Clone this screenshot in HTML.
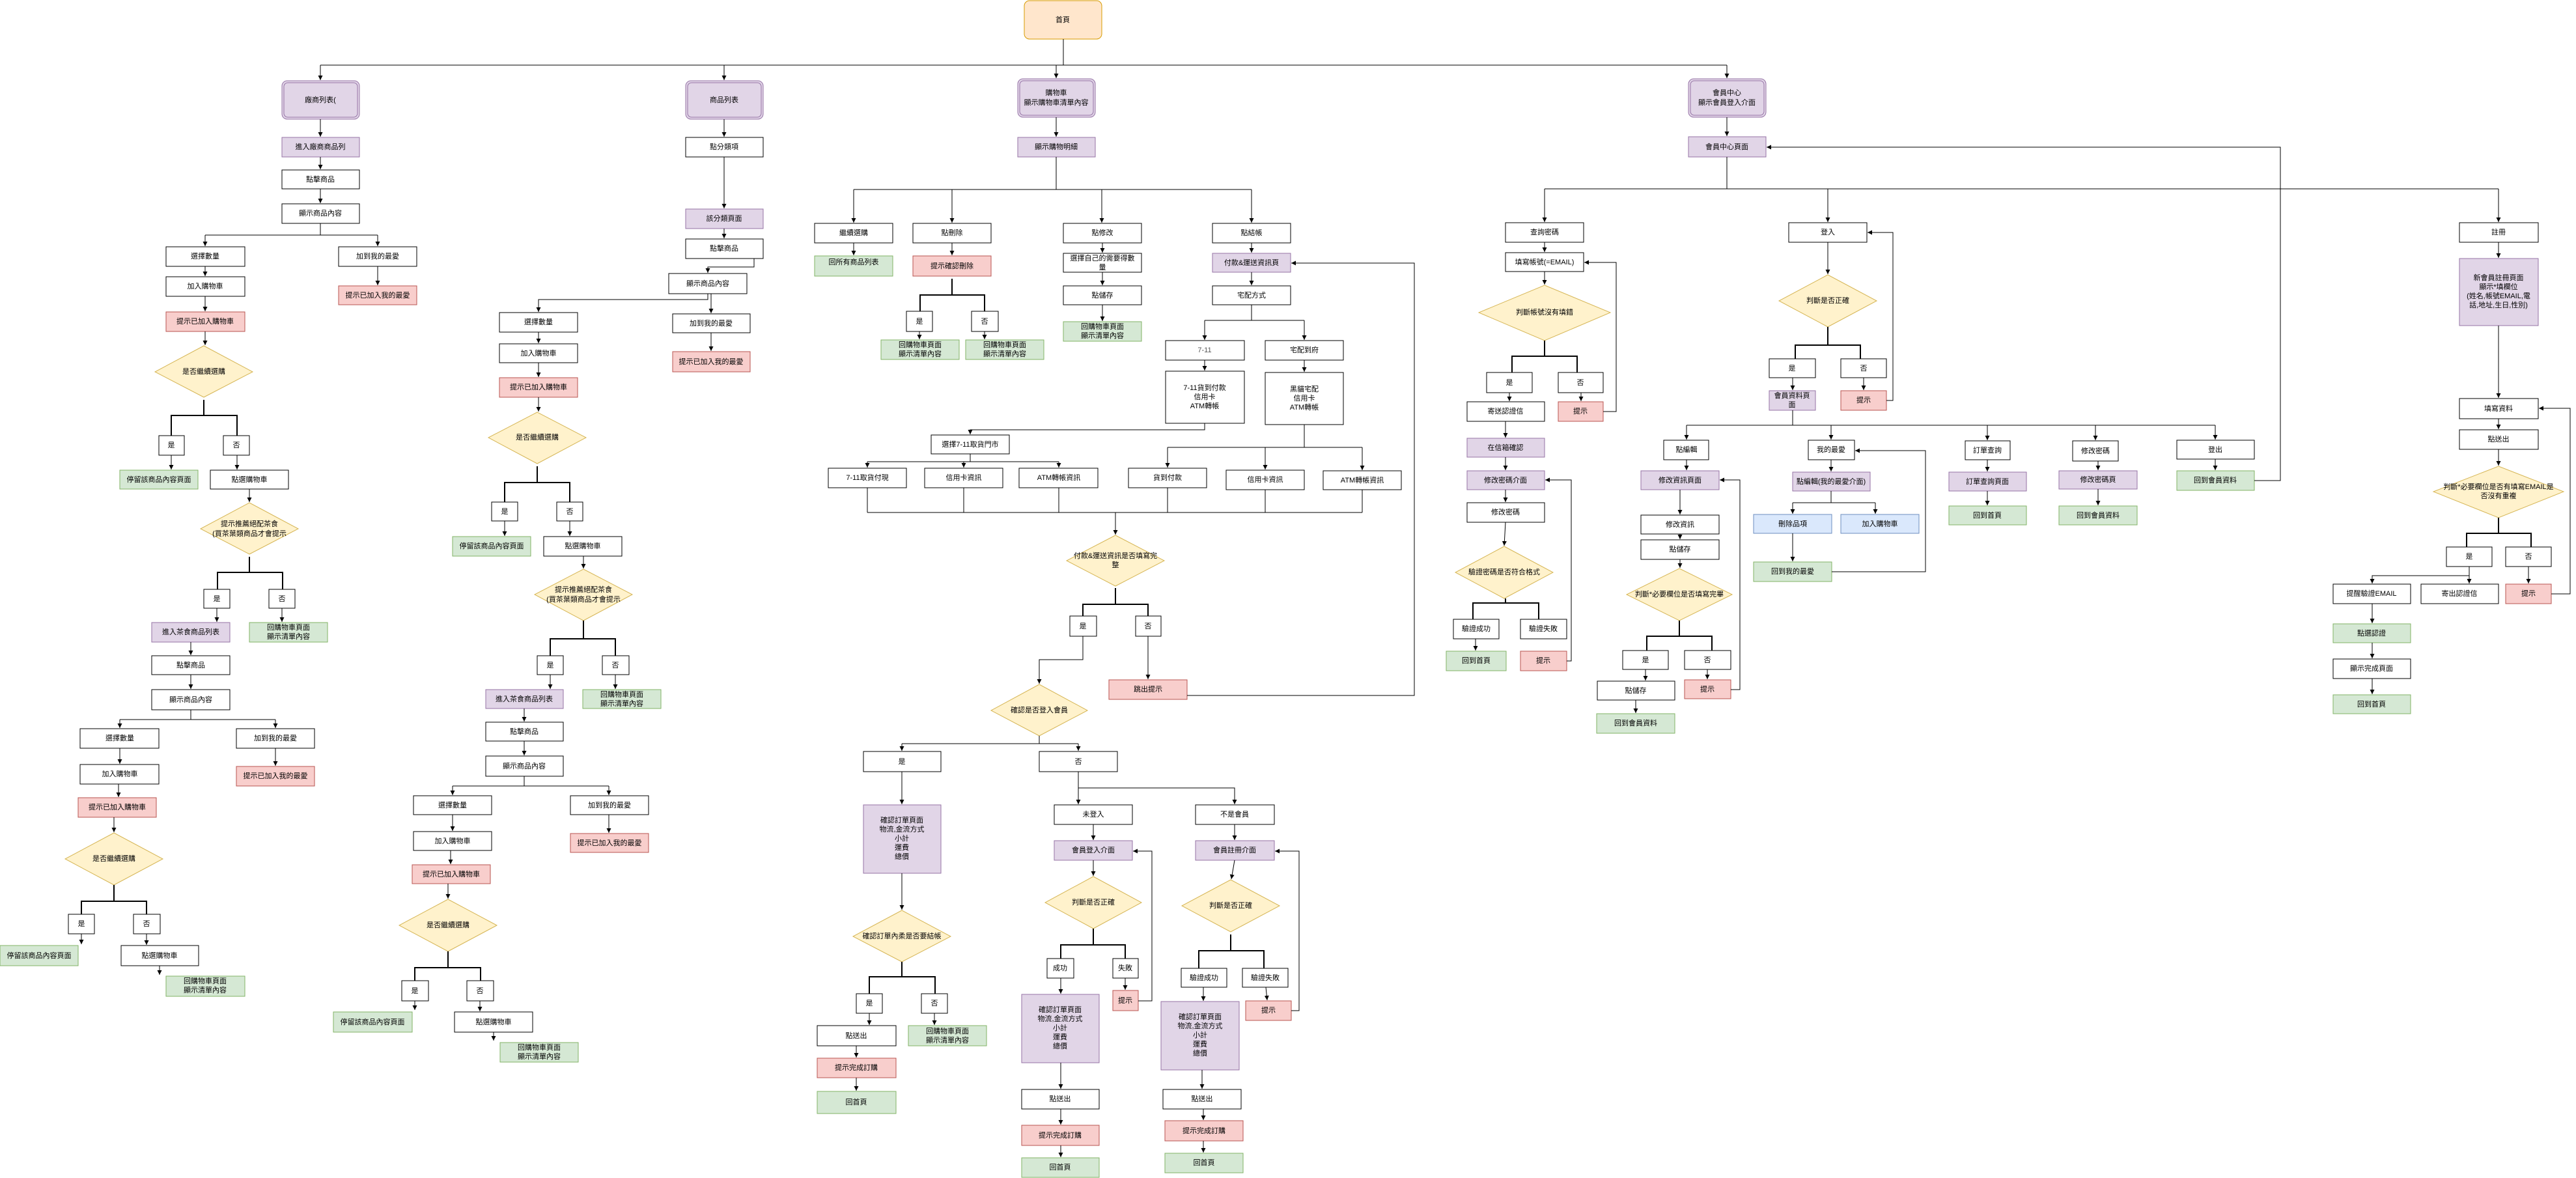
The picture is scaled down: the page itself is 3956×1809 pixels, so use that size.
<!DOCTYPE html>
<html><head><meta charset="utf-8"><style>
html,body{margin:0;padding:0;background:#fff;}
svg{display:block;}
text{font-family:"Liberation Sans","Noto Sans CJK TC",sans-serif;font-size:11px;fill:#000;text-anchor:middle;dominant-baseline:central;}
.w{fill:#fff;stroke:#000;stroke-width:1;}
.p{fill:#e1d5e7;stroke:#9673a6;stroke-width:1;}
.g{fill:#d5e8d4;stroke:#82b366;stroke-width:1;}
.r{fill:#f8cecc;stroke:#b85450;stroke-width:1;}
.b{fill:#dae8fc;stroke:#6c8ebf;stroke-width:1;}
.y{fill:#fff2cc;stroke:#d6b656;stroke-width:1;}
.o{fill:#ffe6cc;stroke:#d79b00;stroke-width:1;}
.c{fill:none;stroke:#000;stroke-width:1;}
.k{fill:none;stroke:#000;stroke-width:2;}
</style></head><body>
<svg width="3956" height="1809" viewBox="0 0 3956 1809" xmlns="http://www.w3.org/2000/svg">
<defs><marker id="a" markerWidth="8" markerHeight="8" refX="7" refY="4" orient="auto" markerUnits="userSpaceOnUse"><path d="M0,0.5 L7,4 L0,7.5 Z" fill="#000"/></marker></defs>

<!-- top -->
<rect class="o" x="1573" y="1" width="119" height="59" rx="8"/><text x="1632" y="31">首頁</text>
<path class="c" d="M1633,60 V100"/>
<path class="c" d="M492,100 H2652"/>
<path class="c" d="M492,100 V123" marker-end="url(#a)"/>
<path class="c" d="M1112,100 V123" marker-end="url(#a)"/>
<path class="c" d="M1622,100 V120" marker-end="url(#a)"/>
<path class="c" d="M2652,100 V120" marker-end="url(#a)"/>

<!-- column 1 -->
<rect class="p" x="433" y="124" width="119" height="59" rx="8"/><rect class="p" x="436" y="127" width="113" height="53" rx="6"/><text x="492" y="154">廠商列表(</text>
<path class="c" d="M492,183 V210" marker-end="url(#a)"/>
<rect class="p" x="433" y="211" width="119" height="30"/><text x="492" y="226">進入廠商商品列</text>
<path class="c" d="M492,241 V260" marker-end="url(#a)"/>
<rect class="w" x="433" y="261" width="119" height="29"/><text x="492" y="276">點擊商品</text>
<path class="c" d="M492,290 V312" marker-end="url(#a)"/>
<rect class="w" x="433" y="313" width="119" height="30"/><text x="492" y="328">顯示商品內容</text>
<path class="c" d="M492,343 V361 M315,361 H580"/>
<path class="c" d="M315,361 V378" marker-end="url(#a)"/><path class="c" d="M580,361 V378" marker-end="url(#a)"/>
<rect class="w" x="255" y="379" width="121" height="30"/><text x="315" y="394">選擇數量</text>
<rect class="w" x="520" y="379" width="120" height="30"/><text x="580" y="394">加到我的最愛</text>
<path class="c" d="M315,409 V424" marker-end="url(#a)"/>
<path class="c" d="M580,409 V438" marker-end="url(#a)"/>
<rect class="w" x="255" y="425" width="121" height="30"/><text x="315" y="440">加入購物車</text>
<rect class="r" x="520" y="439" width="120" height="29"/><text x="580" y="454">提示已加入我的最愛</text>
<path class="c" d="M315,455 V478" marker-end="url(#a)"/>
<rect class="r" x="255" y="479" width="121" height="30"/><text x="315" y="494">提示已加入購物車</text>
<path class="c" d="M315,509 V530" marker-end="url(#a)"/>
<polygon class="y" points="313,531 388,571 313,610 238,571"/><text x="313" y="571">是否繼續選購</text>
<path class="k" d="M313,614 V638 M263,638 H364 M263,637 V669 M364,637 V669"/>
<rect class="w" x="244" y="669" width="39" height="30"/><text x="263" y="684">是</text>
<rect class="w" x="343" y="669" width="40" height="30"/><text x="363" y="684">否</text>
<path class="c" d="M263,699 V721" marker-end="url(#a)"/><path class="c" d="M364,699 V721" marker-end="url(#a)"/>
<rect class="g" x="184" y="722" width="120" height="29"/><text x="244" y="737">停留該商品內容頁面</text>
<rect class="w" x="323" y="722" width="120" height="29"/><text x="383" y="737">點選購物車</text>
<path class="c" d="M383,751 V771" marker-end="url(#a)"/>
<polygon class="y" points="383,772 458,812 383,851 308,812"/><text x="383" y="805">提示推薦絕配茶食</text><text x="383" y="820">(買茶葉類商品才會提示</text>
<path class="k" d="M383,855 V879 M334,879 H434 M334,878 V905 M434,878 V905"/>
<rect class="w" x="313" y="905" width="40" height="29"/><text x="333" y="920">是</text>
<rect class="w" x="413" y="905" width="40" height="29"/><text x="433" y="920">否</text>
<path class="c" d="M333,934 V955" marker-end="url(#a)"/><path class="c" d="M433,934 V955" marker-end="url(#a)"/>
<rect class="p" x="233" y="956" width="120" height="30"/><text x="293" y="971">進入茶食商品列表</text>
<rect class="g" x="383" y="956" width="120" height="30"/><text x="443" y="964">回購物車頁面</text><text x="443" y="978">顯示清單內容</text>
<path class="c" d="M293,986 V1006" marker-end="url(#a)"/>
<rect class="w" x="233" y="1007" width="120" height="29"/><text x="293" y="1022">點擊商品</text>
<path class="c" d="M293,1036 V1058" marker-end="url(#a)"/>
<rect class="w" x="233" y="1059" width="120" height="31"/><text x="293" y="1075">顯示商品內容</text>
<path class="c" d="M293,1090 V1105 M184,1105 H423"/>
<path class="c" d="M184,1105 V1118" marker-end="url(#a)"/><path class="c" d="M423,1105 V1118" marker-end="url(#a)"/>
<rect class="w" x="123" y="1119" width="121" height="30"/><text x="184" y="1134">選擇數量</text>
<rect class="w" x="363" y="1119" width="120" height="30"/><text x="423" y="1134">加到我的最愛</text>
<path class="c" d="M184,1149 V1173" marker-end="url(#a)"/><path class="c" d="M423,1149 V1176" marker-end="url(#a)"/>
<rect class="w" x="123" y="1174" width="121" height="30"/><text x="184" y="1189">加入購物車</text>
<rect class="r" x="363" y="1177" width="120" height="30"/><text x="423" y="1192">提示已加入我的最愛</text>
<path class="c" d="M182,1204 V1224" marker-end="url(#a)"/>
<rect class="r" x="120" y="1225" width="120" height="30"/><text x="180" y="1240">提示已加入購物車</text>
<path class="c" d="M175,1255 V1278" marker-end="url(#a)"/>
<polygon class="y" points="175,1279 250,1319 175,1359 100,1319"/><text x="175" y="1319">是否繼續選購</text>
<path class="k" d="M175,1359 V1384 M125,1384 H225 M125,1383 V1404 M225,1383 V1404"/>
<rect class="w" x="105" y="1404" width="40" height="30"/><text x="125" y="1419">是</text>
<rect class="w" x="205" y="1404" width="41" height="30"/><text x="225" y="1419">否</text>
<path class="c" d="M125,1434 V1450" marker-end="url(#a)"/><path class="c" d="M225,1434 V1451" marker-end="url(#a)"/>
<rect class="g" x="0" y="1452" width="120" height="31"/><text x="60" y="1468">停留該商品內容頁面</text>
<rect class="w" x="186" y="1452" width="119" height="31"/><text x="245" y="1468">點選購物車</text>
<path class="c" d="M245,1483 V1497" marker-end="url(#a)"/>
<rect class="g" x="255" y="1499" width="121" height="31"/><text x="315" y="1507">回購物車頁面</text><text x="315" y="1521">顯示清單內容</text>

<!-- column 2 -->
<rect class="p" x="1053" y="124" width="119" height="59" rx="8"/><rect class="p" x="1056" y="127" width="113" height="53" rx="6"/><text x="1112" y="154">商品列表</text>
<path class="c" d="M1112,183 V210" marker-end="url(#a)"/>
<rect class="w" x="1053" y="211" width="119" height="30"/><text x="1112" y="226">點分類項</text>
<path class="c" d="M1112,241 V320" marker-end="url(#a)"/>
<rect class="p" x="1053" y="321" width="119" height="30"/><text x="1112" y="336">該分類頁面</text>
<path class="c" d="M1112,351 V366" marker-end="url(#a)"/>
<rect class="w" x="1053" y="367" width="119" height="30"/><text x="1112" y="382">點擊商品</text>
<path class="c" d="M1158,397 V410 H1087 V419" marker-end="url(#a)"/>
<rect class="w" x="1027" y="420" width="120" height="31"/><text x="1087" y="436">顯示商品內容</text>
<path class="c" d="M1087,451 V460 H827 V479" marker-end="url(#a)"/>
<path class="c" d="M1092,451 V481" marker-end="url(#a)"/>
<rect class="w" x="1033" y="482" width="119" height="29"/><text x="1092" y="497">加到我的最愛</text>
<path class="c" d="M1092,511 V539" marker-end="url(#a)"/>
<rect class="r" x="1033" y="540" width="119" height="31"/><text x="1092" y="556">提示已加入我的最愛</text>
<rect class="w" x="767" y="480" width="120" height="30"/><text x="827" y="495">選擇數量</text>
<path class="c" d="M827,510 V527" marker-end="url(#a)"/>
<rect class="w" x="767" y="528" width="120" height="29"/><text x="827" y="543">加入購物車</text>
<path class="c" d="M827,557 V579" marker-end="url(#a)"/>
<rect class="r" x="767" y="580" width="120" height="30"/><text x="827" y="595">提示已加入購物車</text>
<path class="c" d="M827,610 V632" marker-end="url(#a)"/>
<polygon class="y" points="825,633 900,672 825,712 750,672"/><text x="825" y="672">是否繼續選購</text>
<path class="k" d="M825,716 V741 M775,741 H875 M775,740 V771 M875,740 V771"/>
<rect class="w" x="755" y="771" width="40" height="29"/><text x="775" y="786">是</text>
<rect class="w" x="855" y="771" width="40" height="29"/><text x="875" y="786">否</text>
<path class="c" d="M775,800 V823" marker-end="url(#a)"/><path class="c" d="M875,800 V823" marker-end="url(#a)"/>
<rect class="g" x="695" y="824" width="120" height="30"/><text x="755" y="839">停留該商品內容頁面</text>
<rect class="w" x="835" y="824" width="120" height="30"/><text x="895" y="839">點選購物車</text>
<path class="c" d="M896,854 V873" marker-end="url(#a)"/>
<polygon class="y" points="896,874 971,913 896,953 821,913"/><text x="896" y="906">提示推薦絕配茶食</text><text x="896" y="921">(買茶葉類商品才會提示</text>
<path class="k" d="M896,953 V981 M845,981 H945 M845,980 V1007 M945,980 V1007"/>
<rect class="w" x="825" y="1007" width="40" height="29"/><text x="845" y="1022">是</text>
<rect class="w" x="925" y="1007" width="41" height="29"/><text x="945" y="1022">否</text>
<path class="c" d="M845,1036 V1058" marker-end="url(#a)"/><path class="c" d="M945,1036 V1058" marker-end="url(#a)"/>
<rect class="p" x="746" y="1059" width="119" height="29"/><text x="805" y="1074">進入茶食商品列表</text>
<rect class="g" x="895" y="1059" width="120" height="29"/><text x="955" y="1067">回購物車頁面</text><text x="955" y="1081">顯示清單內容</text>
<path class="c" d="M805,1088 V1108" marker-end="url(#a)"/>
<rect class="w" x="746" y="1109" width="119" height="29"/><text x="805" y="1124">點擊商品</text>
<path class="c" d="M805,1138 V1160" marker-end="url(#a)"/>
<rect class="w" x="746" y="1161" width="119" height="31"/><text x="805" y="1177">顯示商品內容</text>
<path class="c" d="M805,1192 V1207 M695,1207 H935"/>
<path class="c" d="M695,1207 V1221" marker-end="url(#a)"/><path class="c" d="M935,1207 V1221" marker-end="url(#a)"/>
<rect class="w" x="635" y="1222" width="120" height="29"/><text x="695" y="1237">選擇數量</text>
<rect class="w" x="876" y="1222" width="120" height="29"/><text x="936" y="1237">加到我的最愛</text>
<path class="c" d="M695,1251 V1276" marker-end="url(#a)"/><path class="c" d="M935,1251 V1279" marker-end="url(#a)"/>
<rect class="w" x="635" y="1277" width="120" height="29"/><text x="695" y="1292">加入購物車</text>
<rect class="r" x="876" y="1280" width="120" height="29"/><text x="936" y="1295">提示已加入我的最愛</text>
<path class="c" d="M692,1306 V1327" marker-end="url(#a)"/>
<rect class="r" x="633" y="1328" width="120" height="29"/><text x="693" y="1343">提示已加入購物車</text>
<path class="c" d="M688,1357 V1380" marker-end="url(#a)"/>
<polygon class="y" points="688,1381 763,1421 688,1461 613,1421"/><text x="688" y="1421">是否繼續選購</text>
<path class="k" d="M688,1461 V1486 M637,1486 H738 M637,1485 V1506 M738,1485 V1506"/>
<rect class="w" x="617" y="1506" width="41" height="31"/><text x="637" y="1522">是</text>
<rect class="w" x="717" y="1506" width="41" height="31"/><text x="737" y="1522">否</text>
<path class="c" d="M637,1537 V1551" marker-end="url(#a)"/><path class="c" d="M737,1537 V1553" marker-end="url(#a)"/>
<rect class="g" x="512" y="1554" width="121" height="31"/><text x="572" y="1570">停留該商品內容頁面</text>
<rect class="w" x="698" y="1554" width="120" height="31"/><text x="758" y="1570">點選購物車</text>
<path class="c" d="M758,1585 V1598" marker-end="url(#a)"/>
<rect class="g" x="768" y="1601" width="120" height="30"/><text x="828" y="1609">回購物車頁面</text><text x="828" y="1623">顯示清單內容</text>

<!-- column 3 cart -->
<rect class="p" x="1563" y="121" width="119" height="59" rx="8"/><rect class="p" x="1566" y="124" width="113" height="53" rx="6"/><text x="1622" y="143">購物車</text><text x="1622" y="158">顯示購物車清單內容</text>
<path class="c" d="M1622,180 V210" marker-end="url(#a)"/>
<rect class="p" x="1563" y="211" width="119" height="30"/><text x="1622" y="226">顯示購物明細</text>
<path class="c" d="M1622,241 V291 M1311,291 H1922"/>
<path class="c" d="M1311,291 V342" marker-end="url(#a)"/><path class="c" d="M1462,291 V342" marker-end="url(#a)"/><path class="c" d="M1692,291 V342" marker-end="url(#a)"/><path class="c" d="M1922,291 V342" marker-end="url(#a)"/>
<rect class="w" x="1251" y="343" width="120" height="30"/><text x="1311" y="358">繼續選購</text>
<rect class="w" x="1402" y="343" width="120" height="30"/><text x="1462" y="358">點刪除</text>
<rect class="w" x="1633" y="343" width="120" height="30"/><text x="1693" y="358">點修改</text>
<rect class="w" x="1862" y="343" width="120" height="30"/><text x="1922" y="358">點結帳</text>
<path class="c" d="M1311,373 V392" marker-end="url(#a)"/><path class="c" d="M1462,373 V392" marker-end="url(#a)"/>
<rect class="g" x="1251" y="393" width="120" height="31"/><text x="1311" y="403">回所有商品列表</text>
<rect class="r" x="1402" y="393" width="120" height="31"/><text x="1462" y="409">提示確認刪除</text>
<path class="k" d="M1462,428 V453 M1413,453 H1512 M1413,452 V478 M1512,452 V478"/>
<rect class="w" x="1392" y="478" width="40" height="31"/><text x="1412" y="494">是</text>
<rect class="w" x="1492" y="478" width="41" height="31"/><text x="1512" y="494">否</text>
<path class="c" d="M1412,509 V521" marker-end="url(#a)"/><path class="c" d="M1512,509 V521" marker-end="url(#a)"/>
<rect class="g" x="1353" y="522" width="120" height="30"/><text x="1413" y="530">回購物車頁面</text><text x="1413" y="544">顯示清單內容</text>
<rect class="g" x="1483" y="522" width="120" height="30"/><text x="1543" y="530">回購物車頁面</text><text x="1543" y="544">顯示清單內容</text>
<path class="c" d="M1693,373 V388" marker-end="url(#a)"/>
<rect class="w" x="1633" y="389" width="120" height="29"/><text x="1693" y="397">選擇自己的需要得數</text><text x="1693" y="411">量</text>
<path class="c" d="M1693,418 V438" marker-end="url(#a)"/>
<rect class="w" x="1633" y="439" width="120" height="29"/><text x="1693" y="454">點儲存</text>
<path class="c" d="M1693,468 V493" marker-end="url(#a)"/>
<rect class="g" x="1633" y="494" width="120" height="30"/><text x="1693" y="502">回購物車頁面</text><text x="1693" y="516">顯示清單內容</text>
<path class="c" d="M1922,373 V388" marker-end="url(#a)"/>
<rect class="p" x="1862" y="389" width="120" height="29"/><text x="1922" y="404">付款&amp;運送資訊頁</text>
<path class="c" d="M1922,418 V438" marker-end="url(#a)"/>
<rect class="w" x="1862" y="439" width="120" height="29"/><text x="1922" y="454">宅配方式</text>
<path class="c" d="M1922,468 V492 M1850,492 H2003"/>
<path class="c" d="M1850,492 V522" marker-end="url(#a)"/><path class="c" d="M2003,492 V522" marker-end="url(#a)"/>
<rect class="w" x="1790" y="523" width="121" height="30"/><text x="1850" y="538" style="fill:#555">7-11</text>
<rect class="w" x="1943" y="523" width="120" height="30"/><text x="2003" y="538">宅配到府</text>
<path class="c" d="M1850,553 V569" marker-end="url(#a)"/><path class="c" d="M2003,553 V571" marker-end="url(#a)"/>
<rect class="w" x="1790" y="570" width="121" height="80"/><text x="1850" y="596">7-11貨到付款</text><text x="1850" y="610">信用卡</text><text x="1850" y="624">ATM轉帳</text>
<rect class="w" x="1943" y="572" width="120" height="80"/><text x="2003" y="598">黑貓宅配</text><text x="2003" y="612">信用卡</text><text x="2003" y="626">ATM轉帳</text>
<path class="c" d="M1850,650 V660 H1490 V667" marker-end="url(#a)"/>
<rect class="w" x="1430" y="668" width="120" height="29"/><text x="1490" y="683">選擇7-11取貨門市</text>
<path class="c" d="M1490,697 V709 M1332,709 H1626"/>
<path class="c" d="M1332,709 V718" marker-end="url(#a)"/><path class="c" d="M1480,709 V718" marker-end="url(#a)"/><path class="c" d="M1626,709 V718" marker-end="url(#a)"/>
<rect class="w" x="1272" y="719" width="120" height="30"/><text x="1332" y="734">7-11取貨付現</text>
<rect class="w" x="1420" y="719" width="120" height="30"/><text x="1480" y="734">信用卡資訊</text>
<rect class="w" x="1565" y="719" width="121" height="30"/><text x="1626" y="734">ATM轉帳資訊</text>
<path class="c" d="M2003,652 V687 M1793,687 H2092"/>
<path class="c" d="M1793,687 V718" marker-end="url(#a)"/><path class="c" d="M1943,687 V721" marker-end="url(#a)"/><path class="c" d="M2092,687 V722" marker-end="url(#a)"/>
<rect class="w" x="1733" y="719" width="120" height="30"/><text x="1793" y="734">貨到付款</text>
<rect class="w" x="1883" y="722" width="120" height="30"/><text x="1943" y="737">信用卡資訊</text>
<rect class="w" x="2032" y="723" width="120" height="29"/><text x="2092" y="738">ATM轉帳資訊</text>
<path class="c" d="M1332,749 V787 M1480,749 V787 M1626,749 V787 M1793,749 V787 M1943,752 V787 M2092,752 V787 M1332,787 H2092"/>
<path class="c" d="M1713,787 V821" marker-end="url(#a)"/>
<polygon class="y" points="1713,822 1788,861 1713,900 1638,861"/><text x="1713" y="854">付款&amp;運送資訊是否填寫完</text><text x="1713" y="868">整</text>
<path class="k" d="M1713,903 V928 M1663,928 H1763 M1663,927 V946 M1763,927 V946"/>
<rect class="w" x="1643" y="946" width="41" height="31"/><text x="1663" y="962">是</text>
<rect class="w" x="1744" y="946" width="39" height="31"/><text x="1763" y="962">否</text>
<path class="c" d="M1663,977 V1013 H1596 V1050" marker-end="url(#a)"/>
<path class="c" d="M1763,977 V1043" marker-end="url(#a)"/>
<rect class="r" x="1703" y="1044" width="120" height="30"/><text x="1763" y="1059">跳出提示</text>
<path class="c" d="M1823,1068 H2172 V404 H1983" marker-end="url(#a)"/>
<polygon class="y" points="1596,1051 1670,1091 1596,1130 1522,1091"/><text x="1596" y="1091">確認是否登入會員</text>
<path class="c" d="M1596,1130 V1142 M1385,1142 H1656"/>
<path class="c" d="M1385,1142 V1153" marker-end="url(#a)"/><path class="c" d="M1656,1142 V1153" marker-end="url(#a)"/>
<rect class="w" x="1326" y="1154" width="119" height="31"/><text x="1385" y="1170">是</text>
<rect class="w" x="1596" y="1154" width="120" height="31"/><text x="1656" y="1170">否</text>
<path class="c" d="M1385,1185 V1235" marker-end="url(#a)"/>
<rect class="p" x="1326" y="1236" width="119" height="105"/><text x="1385" y="1260">確認訂單頁面</text><text x="1385" y="1274">物流,金流方式</text><text x="1385" y="1288">小計</text><text x="1385" y="1302">運費</text><text x="1385" y="1316">總價</text>
<path class="c" d="M1385,1341 V1397" marker-end="url(#a)"/>
<polygon class="y" points="1385,1398 1460,1438 1385,1477 1310,1438"/><text x="1385" y="1438">確認訂單內柔是否要結帳</text>
<path class="k" d="M1385,1477 V1500 M1335,1500 H1436 M1335,1499 V1526 M1436,1499 V1526"/>
<rect class="w" x="1315" y="1526" width="40" height="30"/><text x="1335" y="1541">是</text>
<rect class="w" x="1415" y="1526" width="40" height="30"/><text x="1435" y="1541">否</text>
<path class="c" d="M1335,1556 V1574" marker-end="url(#a)"/><path class="c" d="M1435,1556 V1574" marker-end="url(#a)"/>
<rect class="w" x="1255" y="1575" width="121" height="31"/><text x="1315" y="1591">點送出</text>
<rect class="g" x="1395" y="1575" width="120" height="31"/><text x="1455" y="1584">回購物車頁面</text><text x="1455" y="1598">顯示清單內容</text>
<path class="c" d="M1315,1606 V1624" marker-end="url(#a)"/>
<rect class="r" x="1255" y="1625" width="121" height="30"/><text x="1315" y="1640">提示完成訂購</text>
<path class="c" d="M1315,1655 V1675" marker-end="url(#a)"/>
<rect class="g" x="1255" y="1676" width="121" height="34"/><text x="1315" y="1693">回首頁</text>
<path class="c" d="M1656,1185 V1210 H1896 V1235" marker-end="url(#a)"/>
<path class="c" d="M1656,1210 V1235" marker-end="url(#a)"/>
<rect class="w" x="1619" y="1236" width="120" height="30"/><text x="1679" y="1251">未登入</text>
<rect class="w" x="1836" y="1236" width="121" height="30"/><text x="1896" y="1251">不是會員</text>
<path class="c" d="M1679,1266 V1290" marker-end="url(#a)"/><path class="c" d="M1896,1266 V1290" marker-end="url(#a)"/>
<rect class="p" x="1619" y="1291" width="120" height="30"/><text x="1679" y="1306">會員登入介面</text>
<rect class="p" x="1836" y="1291" width="121" height="30"/><text x="1896" y="1306">會員註冊介面</text>
<path class="c" d="M1679,1321 V1345" marker-end="url(#a)"/><path class="c" d="M1896,1321 L1891,1350" marker-end="url(#a)"/>
<polygon class="y" points="1679,1346 1753,1386 1679,1426 1605,1386"/><text x="1679" y="1386">判斷是否正確</text>
<polygon class="y" points="1890,1351 1965,1391 1890,1431 1815,1391"/><text x="1890" y="1391">判斷是否正確</text>
<path class="k" d="M1679,1426 V1451 M1629,1451 H1728 M1629,1450 V1472 M1728,1450 V1472"/>
<rect class="w" x="1608" y="1472" width="41" height="30"/><text x="1628" y="1487">成功</text>
<rect class="w" x="1709" y="1472" width="39" height="30"/><text x="1728" y="1487">失敗</text>
<path class="c" d="M1728,1502 V1520" marker-end="url(#a)"/>
<rect class="r" x="1709" y="1521" width="39" height="31"/><text x="1728" y="1537">提示</text>
<path class="c" d="M1748,1537 H1769 V1307 H1740" marker-end="url(#a)"/>
<path class="c" d="M1629,1502 V1526" marker-end="url(#a)"/>
<rect class="p" x="1569" y="1527" width="119" height="105"/><text x="1628" y="1551">確認訂單頁面</text><text x="1628" y="1565">物流,金流方式</text><text x="1628" y="1579">小計</text><text x="1628" y="1593">運費</text><text x="1628" y="1607">總價</text>
<path class="c" d="M1629,1632 V1672" marker-end="url(#a)"/>
<rect class="w" x="1569" y="1673" width="119" height="30"/><text x="1628" y="1688">點送出</text>
<path class="c" d="M1629,1703 V1727" marker-end="url(#a)"/>
<rect class="r" x="1569" y="1728" width="119" height="31"/><text x="1628" y="1744">提示完成訂購</text>
<path class="c" d="M1629,1759 V1777" marker-end="url(#a)"/>
<rect class="g" x="1569" y="1778" width="119" height="30"/><text x="1628" y="1793">回首頁</text>
<path class="k" d="M1890,1435 V1460 M1841,1460 H1941 M1841,1459 V1487 M1941,1459 V1487"/>
<rect class="w" x="1814" y="1487" width="70" height="29"/><text x="1849" y="1502">驗證成功</text>
<rect class="w" x="1908" y="1487" width="70" height="29"/><text x="1943" y="1502">驗證失敗</text>
<path class="c" d="M1848,1516 V1537" marker-end="url(#a)"/><path class="c" d="M1944,1516 L1946,1536" marker-end="url(#a)"/>
<rect class="p" x="1783" y="1538" width="120" height="105"/><text x="1843" y="1562">確認訂單頁面</text><text x="1843" y="1576">物流,金流方式</text><text x="1843" y="1590">小計</text><text x="1843" y="1604">運費</text><text x="1843" y="1618">總價</text>
<rect class="r" x="1913" y="1537" width="70" height="30"/><text x="1948" y="1552">提示</text>
<path class="c" d="M1983,1552 H1995 V1307 H1958" marker-end="url(#a)"/>
<path class="c" d="M1846,1643 V1672" marker-end="url(#a)"/>
<rect class="w" x="1786" y="1673" width="120" height="30"/><text x="1846" y="1688">點送出</text>
<path class="c" d="M1848,1703 V1720" marker-end="url(#a)"/>
<rect class="r" x="1789" y="1721" width="120" height="31"/><text x="1849" y="1737">提示完成訂購</text>
<path class="c" d="M1848,1752 V1770" marker-end="url(#a)"/>
<rect class="g" x="1789" y="1771" width="120" height="30"/><text x="1849" y="1786">回首頁</text>

<!-- column 4 member -->
<rect class="p" x="2593" y="121" width="119" height="59" rx="8"/><rect class="p" x="2596" y="124" width="113" height="53" rx="6"/><text x="2652" y="143">會員中心</text><text x="2652" y="158">顯示會員登入介面</text>
<path class="c" d="M2652,180 V209" marker-end="url(#a)"/>
<rect class="p" x="2593" y="210" width="119" height="31"/><text x="2652" y="226">會員中心頁面</text>
<path class="c" d="M2652,241 V290 M2372,290 H3837"/>
<path class="c" d="M2372,290 V341" marker-end="url(#a)"/><path class="c" d="M2807,290 V341" marker-end="url(#a)"/><path class="c" d="M3837,290 V341" marker-end="url(#a)"/>
<rect class="w" x="2312" y="342" width="120" height="30"/><text x="2372" y="357">查詢密碼</text>
<path class="c" d="M2372,372 V387" marker-end="url(#a)"/>
<rect class="w" x="2312" y="388" width="120" height="29"/><text x="2372" y="403">填寫帳號(=EMAIL)</text>
<path class="c" d="M2372,417 V437" marker-end="url(#a)"/>
<polygon class="y" points="2372,438 2473,480 2372,523 2271,480"/><text x="2372" y="480">判斷帳號沒有填錯</text>
<path class="k" d="M2372,523 V547 M2322,547 H2422 M2322,546 V572 M2422,546 V572"/>
<rect class="w" x="2283" y="572" width="70" height="31"/><text x="2318" y="588">是</text>
<rect class="w" x="2393" y="572" width="69" height="31"/><text x="2427" y="588">否</text>
<path class="c" d="M2318,603 V616" marker-end="url(#a)"/><path class="c" d="M2428,603 V616" marker-end="url(#a)"/>
<rect class="w" x="2253" y="617" width="119" height="30"/><text x="2312" y="632">寄送認證信</text>
<rect class="r" x="2393" y="617" width="69" height="30"/><text x="2427" y="632">提示</text>
<path class="c" d="M2462,632 H2482 V403 H2433" marker-end="url(#a)"/>
<path class="c" d="M2312,647 V672" marker-end="url(#a)"/>
<rect class="p" x="2253" y="673" width="119" height="29"/><text x="2312" y="688">在信箱確認</text>
<path class="c" d="M2312,702 V722" marker-end="url(#a)"/>
<rect class="p" x="2253" y="723" width="119" height="29"/><text x="2312" y="738">修改密碼介面</text>
<path class="c" d="M2312,752 V771" marker-end="url(#a)"/>
<rect class="w" x="2253" y="772" width="119" height="30"/><text x="2312" y="787">修改密碼</text>
<path class="c" d="M2312,802 L2310,838" marker-end="url(#a)"/>
<polygon class="y" points="2310,839 2385,879 2310,919 2235,879"/><text x="2310" y="879">驗證密碼是否符合格式</text>
<path class="k" d="M2312,919 V926 M2262,926 H2363 M2262,925 V951 M2363,925 V951"/>
<rect class="w" x="2232" y="951" width="70" height="30"/><text x="2267" y="966">驗證成功</text>
<rect class="w" x="2335" y="951" width="71" height="30"/><text x="2370" y="966">驗證失敗</text>
<path class="c" d="M2266,981 V999" marker-end="url(#a)"/>
<rect class="g" x="2221" y="1000" width="92" height="30"/><text x="2267" y="1015">回到首頁</text>
<rect class="r" x="2335" y="1000" width="71" height="30"/><text x="2370" y="1015">提示</text>
<path class="c" d="M2406,1015 H2413 V737 H2373" marker-end="url(#a)"/>
<rect class="w" x="2747" y="342" width="120" height="30"/><text x="2807" y="357">登入</text>
<path class="c" d="M2807,372 V421" marker-end="url(#a)"/>
<polygon class="y" points="2807,422 2882,462 2807,502 2732,462"/><text x="2807" y="462">判斷是否正確</text>
<path class="k" d="M2807,502 V530 M2757,530 H2857 M2757,529 V551 M2857,529 V551"/>
<rect class="w" x="2717" y="551" width="71" height="29"/><text x="2752" y="566">是</text>
<rect class="w" x="2827" y="551" width="70" height="29"/><text x="2862" y="566">否</text>
<path class="c" d="M2753,580 V599" marker-end="url(#a)"/><path class="c" d="M2862,580 V599" marker-end="url(#a)"/>
<rect class="p" x="2717" y="600" width="71" height="30"/><text x="2752" y="608">會員資料頁</text><text x="2752" y="622">面</text>
<rect class="r" x="2827" y="600" width="70" height="30"/><text x="2862" y="615">提示</text>
<path class="c" d="M2897,615 H2907 V357 H2868" marker-end="url(#a)"/>
<path class="c" d="M2753,630 V653 M2590,653 H3402"/>
<path class="c" d="M2590,653 V675" marker-end="url(#a)"/><path class="c" d="M2812,653 V675" marker-end="url(#a)"/><path class="c" d="M3052,653 V676" marker-end="url(#a)"/><path class="c" d="M3218,653 V676" marker-end="url(#a)"/><path class="c" d="M3402,653 V675" marker-end="url(#a)"/>
<rect class="w" x="2555" y="676" width="69" height="30"/><text x="2590" y="691">點編輯</text>
<path class="c" d="M2590,706 V722" marker-end="url(#a)"/>
<rect class="p" x="2520" y="723" width="120" height="29"/><text x="2580" y="738">修改資訊頁面</text>
<path class="c" d="M2580,752 V790" marker-end="url(#a)"/>
<rect class="w" x="2520" y="791" width="120" height="29"/><text x="2580" y="806">修改資訊</text>
<path class="c" d="M2580,820 V828" marker-end="url(#a)"/>
<rect class="w" x="2520" y="829" width="120" height="30"/><text x="2580" y="844">點儲存</text>
<path class="c" d="M2580,859 V872" marker-end="url(#a)"/>
<polygon class="y" points="2579,873 2660,913 2579,953 2498,913"/><text x="2579" y="913">判斷*必要欄位是否填寫完畢</text>
<path class="k" d="M2579,953 V977 M2529,977 H2629 M2529,976 V999 M2629,976 V999"/>
<rect class="w" x="2492" y="999" width="70" height="29"/><text x="2527" y="1014">是</text>
<rect class="w" x="2587" y="999" width="71" height="29"/><text x="2622" y="1014">否</text>
<path class="c" d="M2527,1028 V1045" marker-end="url(#a)"/><path class="c" d="M2622,1028 V1043" marker-end="url(#a)"/>
<rect class="w" x="2453" y="1046" width="119" height="29"/><text x="2512" y="1061">點儲存</text>
<rect class="r" x="2587" y="1044" width="71" height="29"/><text x="2622" y="1059">提示</text>
<path class="c" d="M2658,1059 H2672 V737 H2641" marker-end="url(#a)"/>
<path class="c" d="M2512,1075 V1095" marker-end="url(#a)"/>
<rect class="g" x="2452" y="1096" width="120" height="30"/><text x="2512" y="1111">回到會員資料</text>
<rect class="w" x="2777" y="676" width="71" height="30"/><text x="2812" y="691">我的最愛</text>
<path class="c" d="M2812,706 V724" marker-end="url(#a)"/>
<rect class="p" x="2753" y="725" width="119" height="29"/><text x="2812" y="740">點編輯(我的最愛介面)</text>
<path class="c" d="M2812,754 V772 M2753,772 H2880"/>
<path class="c" d="M2753,772 V789" marker-end="url(#a)"/><path class="c" d="M2880,772 V789" marker-end="url(#a)"/>
<rect class="b" x="2693" y="790" width="120" height="29"/><text x="2753" y="805">刪除品項</text>
<rect class="b" x="2827" y="790" width="120" height="29"/><text x="2887" y="805">加入購物車</text>
<path class="c" d="M2753,819 V862" marker-end="url(#a)"/>
<rect class="g" x="2693" y="863" width="120" height="30"/><text x="2753" y="878">回到我的最愛</text>
<path class="c" d="M2813,878 H2957 V692 H2849" marker-end="url(#a)"/>
<rect class="w" x="3018" y="677" width="69" height="29"/><text x="3052" y="692">訂單查詢</text>
<path class="c" d="M3052,706 V724" marker-end="url(#a)"/>
<rect class="p" x="2993" y="725" width="119" height="29"/><text x="3052" y="740">訂單查詢頁面</text>
<path class="c" d="M3052,754 V776" marker-end="url(#a)"/>
<rect class="g" x="2993" y="777" width="119" height="29"/><text x="3052" y="792">回到首頁</text>
<rect class="w" x="3183" y="677" width="70" height="31"/><text x="3218" y="693">修改密碼</text>
<path class="c" d="M3222,708 V722" marker-end="url(#a)"/>
<rect class="p" x="3162" y="723" width="120" height="28"/><text x="3222" y="737">修改密碼頁</text>
<path class="c" d="M3222,751 V776" marker-end="url(#a)"/>
<rect class="g" x="3162" y="777" width="120" height="29"/><text x="3222" y="792">回到會員資料</text>
<rect class="w" x="3343" y="676" width="119" height="29"/><text x="3402" y="691">登出</text>
<path class="c" d="M3402,705 V722" marker-end="url(#a)"/>
<rect class="g" x="3343" y="723" width="119" height="30"/><text x="3402" y="738">回到會員資料</text>
<path class="c" d="M3462,738 H3502 V226 H2713" marker-end="url(#a)"/>
<rect class="w" x="3777" y="342" width="121" height="30"/><text x="3837" y="357">註冊</text>
<path class="c" d="M3837,372 V396" marker-end="url(#a)"/>
<rect class="p" x="3777" y="397" width="121" height="103"/><text x="3837" y="427">新會員註冊頁面</text><text x="3837" y="441">顯示*填欄位</text><text x="3837" y="455">(姓名,帳號EMAIL,電</text><text x="3837" y="469">話,地址,生日,性別)</text>
<path class="c" d="M3837,500 V611" marker-end="url(#a)"/>
<rect class="w" x="3777" y="612" width="121" height="31"/><text x="3837" y="628">填寫資料</text>
<path class="c" d="M3837,643 V659" marker-end="url(#a)"/>
<rect class="w" x="3777" y="660" width="121" height="30"/><text x="3837" y="675">點送出</text>
<path class="c" d="M3837,690 V715" marker-end="url(#a)"/>
<polygon class="y" points="3837,716 3937,755 3837,795 3737,755"/><text x="3837" y="748">判斷*必要欄位是否有填寫EMAIL是</text><text x="3837" y="762">否沒有重複</text>
<path class="k" d="M3837,795 V819 M3788,819 H3887 M3788,818 V840 M3887,818 V840"/>
<rect class="w" x="3757" y="840" width="70" height="30"/><text x="3792" y="855">是</text>
<rect class="w" x="3848" y="840" width="70" height="30"/><text x="3883" y="855">否</text>
<path class="c" d="M3792,870 V884 H3643 V896" marker-end="url(#a)"/>
<path class="c" d="M3792,884 V896" marker-end="url(#a)"/>
<path class="c" d="M3883,870 V896" marker-end="url(#a)"/>
<rect class="w" x="3583" y="897" width="119" height="30"/><text x="3642" y="912">提醒驗證EMAIL</text>
<rect class="w" x="3718" y="897" width="119" height="30"/><text x="3777" y="912">寄出認證信</text>
<rect class="r" x="3848" y="897" width="70" height="30"/><text x="3883" y="912">提示</text>
<path class="c" d="M3918,912 H3947 V627 H3899" marker-end="url(#a)"/>
<path class="c" d="M3643,927 V957" marker-end="url(#a)"/>
<rect class="g" x="3583" y="958" width="119" height="29"/><text x="3642" y="973">點選認證</text>
<path class="c" d="M3643,987 V1011" marker-end="url(#a)"/>
<rect class="w" x="3583" y="1012" width="119" height="30"/><text x="3642" y="1027">顯示完成頁面</text>
<path class="c" d="M3643,1042 V1066" marker-end="url(#a)"/>
<rect class="g" x="3583" y="1067" width="119" height="29"/><text x="3642" y="1082">回到首頁</text>
</svg>
</body></html>
